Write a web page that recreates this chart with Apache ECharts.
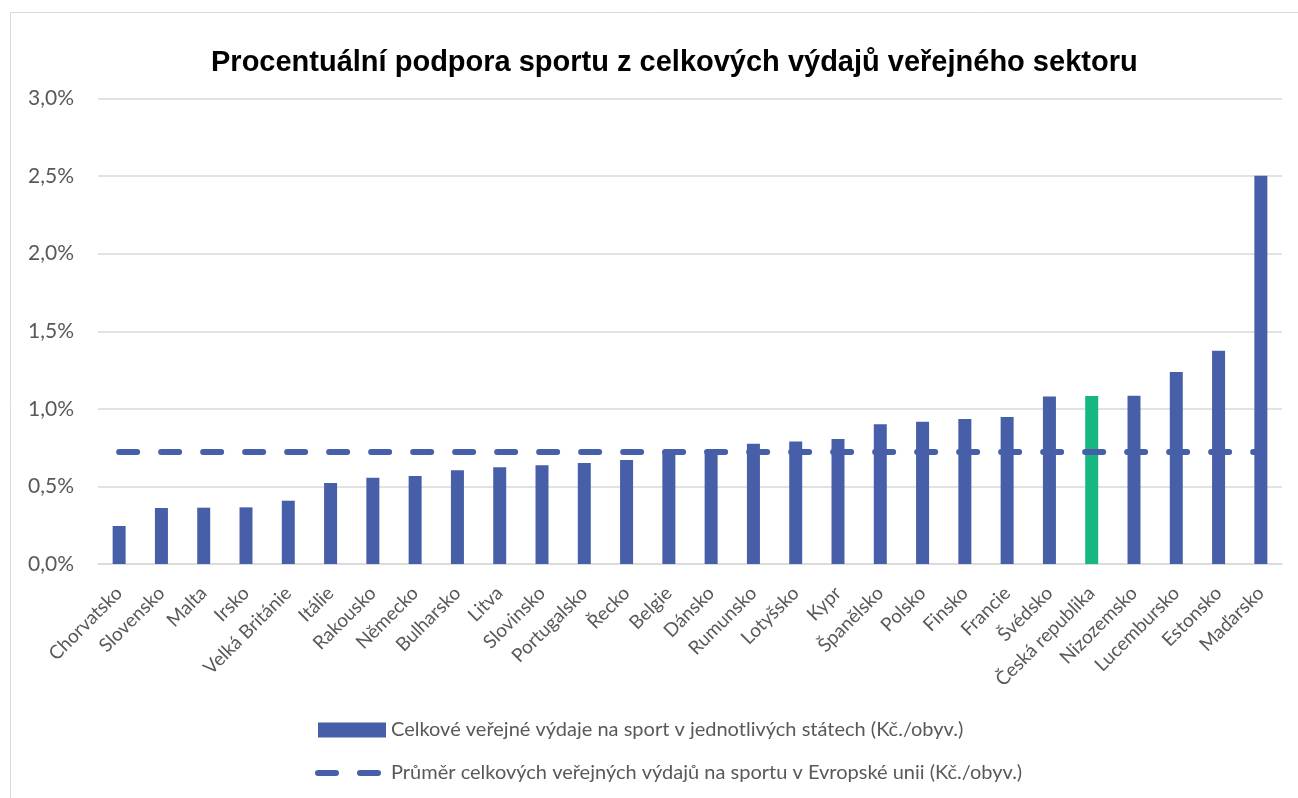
<!DOCTYPE html>
<html>
<head>
<meta charset="utf-8">
<script src="https://cdn.jsdelivr.net/npm/echarts@6/dist/echarts.min.js"></script>
<style>
  html, body { margin: 0; padding: 0; background: #fff; }
  #chart { width: 1298px; height: 798px; }
</style>
</head>
<body>
<div id="chart"></div>
<script>
// Countries ordered by share of public spending going to sport
const countries = [
  'Chorvatsko', 'Slovensko', 'Malta', 'Irsko', 'Velká Británie', 'Itálie',
  'Rakousko', 'Německo', 'Bulharsko', 'Litva', 'Slovinsko', 'Portugalsko',
  'Řecko', 'Belgie', 'Dánsko', 'Rumunsko', 'Lotyšsko', 'Kypr', 'Španělsko',
  'Polsko', 'Finsko', 'Francie', 'Švédsko', 'Česká republika', 'Nizozemsko',
  'Lucembursko', 'Estonsko', 'Maďarsko'
];
// Share of sport in total public expenditure, in %
const sportShare = [
  0.245, 0.361, 0.363, 0.365, 0.408, 0.522,
  0.556, 0.567, 0.604, 0.623, 0.636, 0.651,
  0.670, 0.730, 0.735, 0.775, 0.790, 0.805, 0.900,
  0.917, 0.934, 0.947, 1.080, 1.082, 1.084,
  1.237, 1.374, 2.502
];
// EU average share, in %
const euAverage = 0.722;
const highlighted = 'Česká republika';
const yTicks = [0, 0.5, 1.0, 1.5, 2.0, 2.5, 3.0];

const barName = 'Celkové veřejné výdaje na sport v jednotlivých státech (Kč./obyv.)';
const lineName = 'Průměr celkových veřejných výdajů na sportu v Evropské unii (Kč./obyv.)';
const titleText = 'Procentuální podpora sportu z celkových výdajů veřejného sektoru';

const BLUE = '#475EA8';
const GREEN = '#16B783';
const GREY_TEXT = '#595959';
const GRID = '#D9D9D9';
const FONT = 'Lato, "Open Sans", sans-serif';

// dashed average line: 18px dashes, 42px period, round caps
const DASH = [18, 24];

const chart = echarts.init(document.getElementById('chart'), null, { renderer: 'canvas' });

chart.setOption({
  backgroundColor: '#fff',
  animation: false,
  graphic: [{
    type: 'rect',
    shape: { x: 10.5, y: 12.5, width: 1400, height: 900 },
    style: { fill: 'none', stroke: GRID, lineWidth: 1 },
    silent: true
  }],
  title: {
    text: titleText,
    left: 211,
    top: 48,
    padding: 0,
    textStyle: {
      fontFamily: '"Liberation Sans", Arial, sans-serif',
      fontWeight: 'bold',
      fontSize: 29,
      color: '#000'
    }
  },
  legend: {
    orient: 'vertical',
    left: 315,
    top: 720,
    padding: 0,
    itemWidth: 68,
    itemHeight: 15,
    itemGap: 23,
    textStyle: { fontFamily: FONT, fontSize: 20, color: GREY_TEXT, lineHeight: 20 },
    data: [
      { name: barName, icon: 'rect', itemStyle: { color: BLUE } },
      {
        name: lineName,
        itemStyle: { opacity: 0 },
        lineStyle: { width: 6, type: DASH, cap: 'round', color: BLUE }
      }
    ]
  },
  grid: { left: 98, right: 16, top: 98.5, bottom: 234, containLabel: false },
  xAxis: {
    type: 'category',
    data: countries,
    axisLine: { lineStyle: { color: GRID, width: 1.5 } },
    axisTick: { show: false },
    axisLabel: {
      interval: 0,
      rotate: 45,
      margin: 26,
      fontFamily: FONT,
      fontSize: 19,
      color: GREY_TEXT
    }
  },
  yAxis: {
    type: 'value',
    min: yTicks[0],
    max: yTicks[yTicks.length - 1],
    interval: yTicks[1] - yTicks[0],
    axisLine: { show: false },
    axisTick: { show: false },
    splitLine: { lineStyle: { color: GRID, width: 1.5 } },
    axisLabel: {
      margin: 24,
      fontFamily: FONT,
      fontSize: 21,
      color: GREY_TEXT,
      formatter: v => v.toFixed(1).replace('.', ',') + '%'
    }
  },
  series: [
    {
      name: barName,
      type: 'bar',
      barWidth: 13,
      itemStyle: { color: BLUE },
      data: sportShare.map((v, i) => countries[i] === highlighted
        ? { value: v, itemStyle: { color: GREEN } }
        : v),
      z: 2
    },
    {
      name: lineName,
      type: 'line',
      symbol: 'none',
      data: countries.map(() => euAverage),
      lineStyle: { width: 6, color: BLUE, type: DASH, cap: 'round' },
      itemStyle: { color: BLUE },
      z: 3
    }
  ]
});
</script>
</body>
</html>
